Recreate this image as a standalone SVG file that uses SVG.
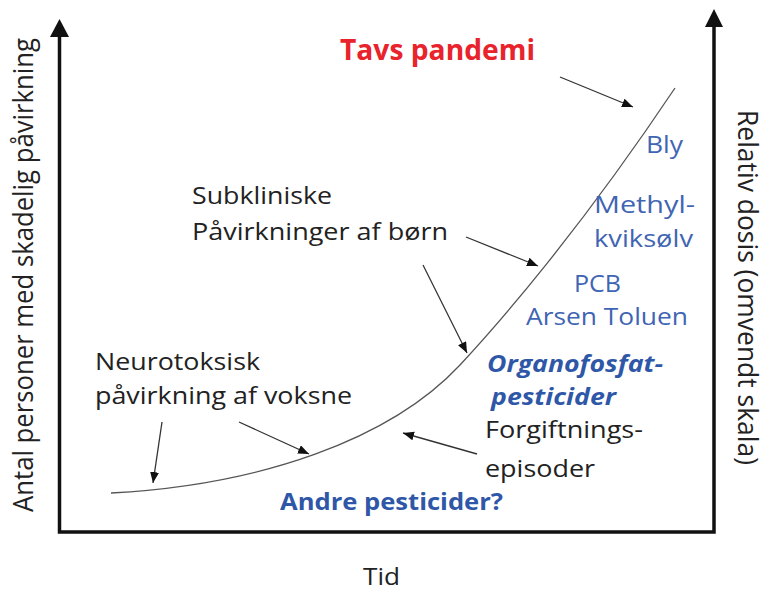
<svg xmlns="http://www.w3.org/2000/svg" width="761" height="591" viewBox="0 0 761 591">
<style>
  text { font-family: "Open Sans", "Noto Sans", "Liberation Sans", sans-serif; }
  .lbl { font-size: 24px; fill: #222; }
  .blue { font-size: 24px; fill: #3f65b3; }
  .bb { font-size: 24px; fill: #2f57a8; font-weight: bold; }
  .bbi { font-size: 24px; fill: #2f57a8; font-weight: bold; font-style: italic; }
  .red { font-size: 28px; fill: #e8232b; font-weight: bold; }
  .axis-lbl { font-size: 28px; fill: #222; }
  .axis { fill: none; stroke: #111; stroke-width: 3.5; stroke-linejoin: miter; }
  .arr { stroke: #333; stroke-width: 1.3; fill: none; marker-end: url(#ah); }
  .curve { fill: none; stroke: #555; stroke-width: 1.3; }
</style>
<defs>
  <marker id="ah" markerUnits="userSpaceOnUse" markerWidth="12" markerHeight="10" refX="11" refY="4.5" orient="auto">
    <path d="M0,0 L11,4.5 L0,9 z" fill="#111"/>
  </marker>
</defs>
<rect width="761" height="591" fill="#fff"/>

<g id="axes">
  <polyline class="axis" points="59.5,37 59.5,532 714,532 714,27"/>
  <path d="M50,37 L59.5,19 L69,37 z" fill="#111"/>
  <path d="M705,27 L714,9 L723,27 z" fill="#111"/>
</g>

<g id="axis-labels">
  <text class="axis-lbl" transform="translate(33,512) rotate(-90)" textLength="474" lengthAdjust="spacingAndGlyphs">Antal personer med skadelig påvirkning</text>
  <text class="axis-lbl" transform="translate(738,110) rotate(90)" textLength="355" lengthAdjust="spacingAndGlyphs">Relativ dosis (omvendt skala)</text>
  <text id="tid" class="lbl" x="363" y="585" textLength="37" lengthAdjust="spacingAndGlyphs">Tid</text>
</g>

<g id="curve">
  <path class="curve" d="M111,493 C260,485 390,440 460,365 C500,322 580,230 675,88"/>
</g>

<g id="connectors">
  <line class="arr" x1="560" y1="77" x2="633" y2="107"/>
  <line class="arr" x1="466" y1="237" x2="538" y2="266"/>
  <line class="arr" x1="423" y1="265" x2="467" y2="353"/>
  <line class="arr" x1="162" y1="422" x2="153" y2="483"/>
  <line class="arr" x1="239" y1="422" x2="309" y2="454"/>
  <line class="arr" x1="477" y1="454" x2="403" y2="433"/>
</g>

<g id="tavs-pandemi">
  <text class="red" x="340" y="60" textLength="195" lengthAdjust="spacingAndGlyphs">Tavs pandemi</text>
</g>
<g id="subkliniske">
  <text class="lbl" x="192" y="204" textLength="140" lengthAdjust="spacingAndGlyphs">Subkliniske</text>
  <text class="lbl" x="192" y="240" textLength="256" lengthAdjust="spacingAndGlyphs">Påvirkninger af børn</text>
</g>
<g id="neurotoksisk">
  <text class="lbl" x="95" y="370" textLength="165" lengthAdjust="spacingAndGlyphs">Neurotoksisk</text>
  <text class="lbl" x="95" y="404" textLength="257" lengthAdjust="spacingAndGlyphs">påvirkning af voksne</text>
</g>
<g id="bly">
  <text class="blue" x="646" y="153" textLength="37" lengthAdjust="spacingAndGlyphs">Bly</text>
</g>
<g id="methylkviksolv">
  <text class="blue" x="594" y="213" textLength="101" lengthAdjust="spacingAndGlyphs">Methyl-</text>
  <text class="blue" x="594" y="247" textLength="99" lengthAdjust="spacingAndGlyphs">kviksølv</text>
</g>
<g id="pcb">
  <text class="blue" x="574" y="292" textLength="47" lengthAdjust="spacingAndGlyphs">PCB</text>
</g>
<g id="arsen-toluen">
  <text class="blue" x="526" y="325" textLength="162" lengthAdjust="spacingAndGlyphs">Arsen Toluen</text>
</g>
<g id="organofosfat">
  <text class="bbi" x="487" y="372" textLength="176" lengthAdjust="spacingAndGlyphs">Organofosfat-</text>
  <text class="bbi" x="491" y="405" textLength="125" lengthAdjust="spacingAndGlyphs">pesticider</text>
</g>
<g id="forgiftning">
  <text class="lbl" x="485" y="438" textLength="158" lengthAdjust="spacingAndGlyphs">Forgiftnings-</text>
  <text class="lbl" x="485" y="477" textLength="110" lengthAdjust="spacingAndGlyphs">episoder</text>
</g>
<g id="andre-pesticider">
  <text class="bb" x="280" y="510" textLength="223" lengthAdjust="spacingAndGlyphs">Andre pesticider?</text>
</g>
</svg>
